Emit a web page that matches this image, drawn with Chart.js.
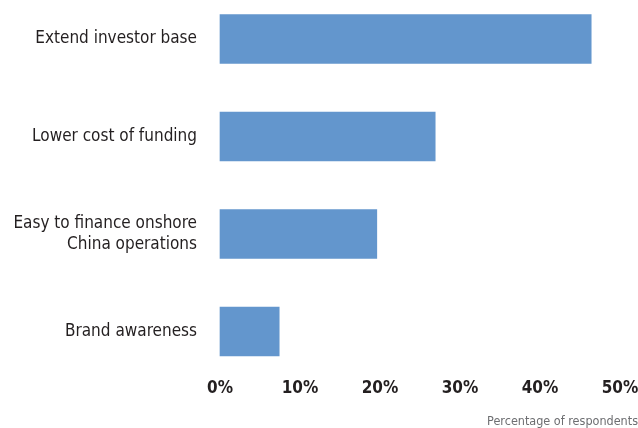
<!DOCTYPE html>
<html>
<head>
<meta charset="utf-8">
<script src="https://cdn.jsdelivr.net/npm/chart.js@4"></script>
<style>
html,body{margin:0;padding:0;background:#fff;}
#wrap{width:638px;height:428px;position:relative;}
</style>
</head>
<body>
<div id="wrap"><canvas id="c" width="638" height="428"></canvas></div>
<script>
const categories = [
  "Extend investor base",
  "Lower cost of funding",
  ["Easy to finance onshore", "China operations"],
  "Brand awareness"
];
const values = [46.4, 26.9, 19.6, 7.4];
const xTicks = [0, 10, 20, 30, 40, 50];
const axisNote = "Percentage of respondents";

const FONT = "'DejaVu Sans Condensed', 'Liberation Sans Narrow', 'Arial Narrow', sans-serif";

new Chart(document.getElementById('c'), {
  type: 'bar',
  data: {
    labels: categories,
    datasets: [{
      data: values,
      backgroundColor: '#6396CD',
      borderWidth: 0,
      barThickness: 49,
      clip: false
    }]
  },
  options: {
    indexAxis: 'y',
    responsive: false,
    animation: false,
    devicePixelRatio: 1,
    layout: { padding: { top: 39, right: 0, bottom: 0, left: 0 } },
    plugins: {
      legend: { display: false },
      tooltip: { enabled: false },
      subtitle: {
        display: true,
        text: axisNote,
        position: 'bottom',
        align: 'end',
        color: '#6d6e71',
        font: { family: FONT, size: 12.5, lineHeight: 1.0 },
        padding: { top: 14, bottom: 0 }
      }
    },
    scales: {
      x: {
        type: 'linear',
        min: 0,
        max: 50,
        afterBuildTicks: (s) => { s.ticks = xTicks.map(v => ({ value: v })); },
        afterFit: (s) => { s.height = 70; s.paddingRight = 18; },
        grid: { display: false, drawTicks: false },
        border: { display: false },
        ticks: {
          padding: 47.3,
          maxRotation: 0,
          color: '#231F20',
          font: { family: FONT, size: 17, weight: 'bold', lineHeight: 1.2 },
          callback: (v) => v + '%'
        }
      },
      y: {
        offset: false,
        grid: { display: false, drawTicks: false },
        border: { display: false },
        afterFit: (s) => { s.width = 220; },
        ticks: {
          padding: 23,
          color: '#231F20',
          font: { family: FONT, size: 17, lineHeight: 1.2 }
        }
      }
    }
  }
});
</script>
</body>
</html>
